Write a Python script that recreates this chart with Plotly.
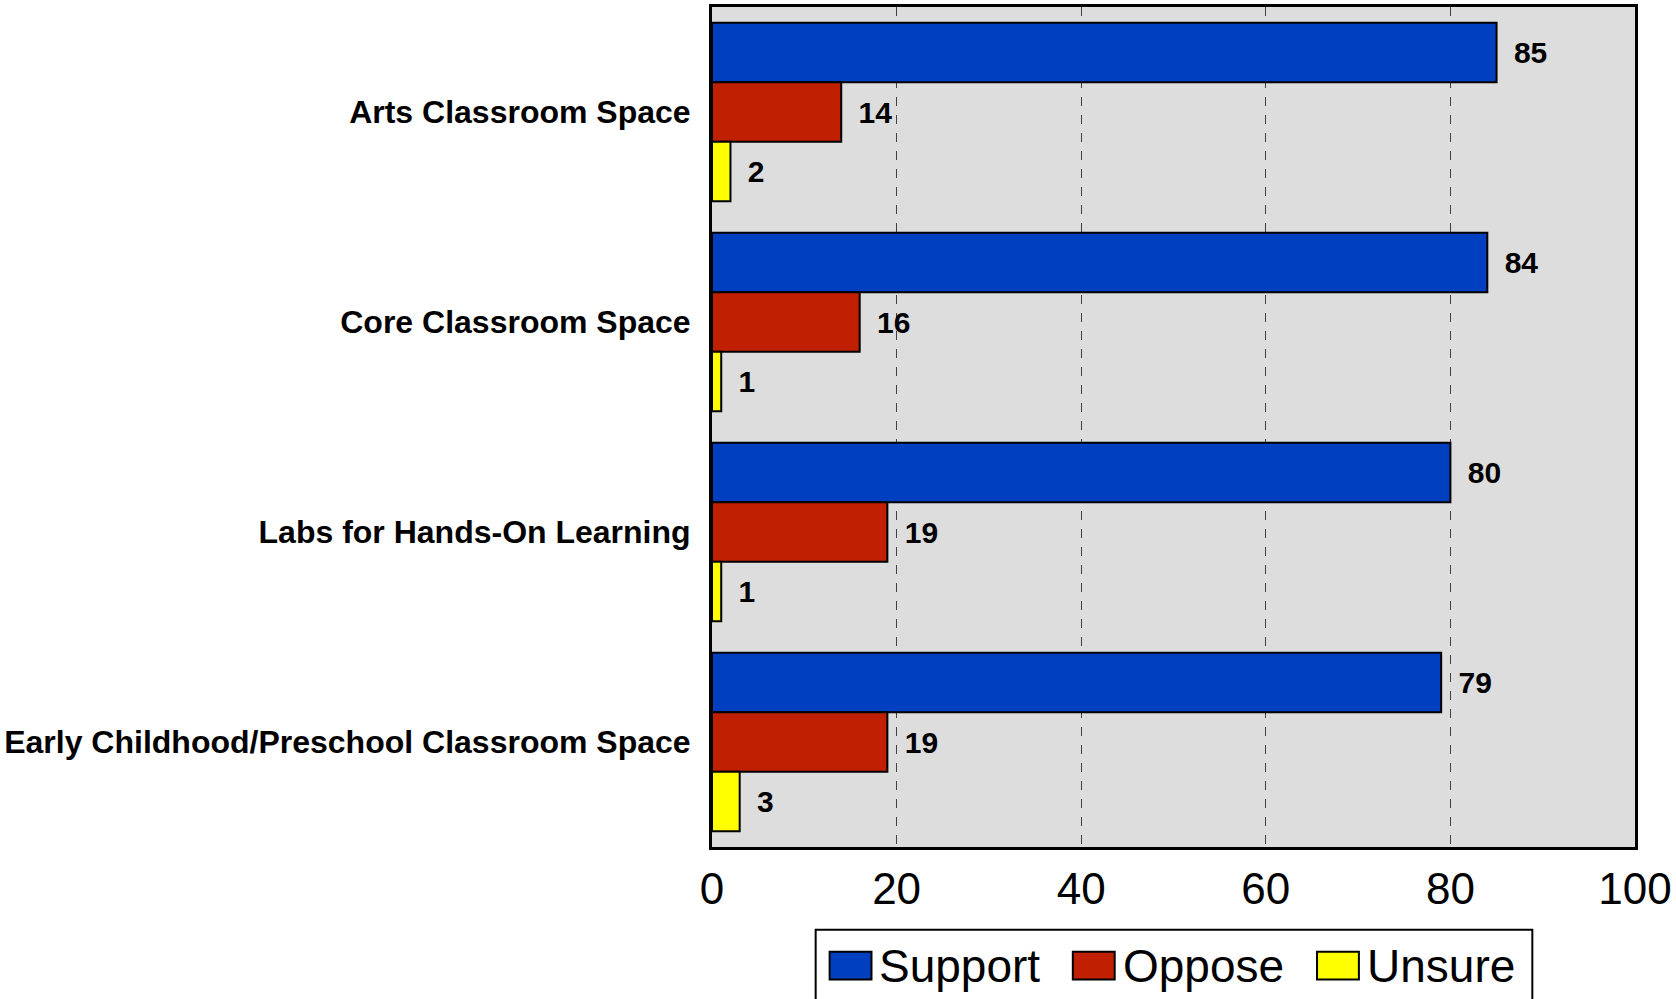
import plotly.graph_objects as go

categories = ["Arts Classroom Space", "Core Classroom Space",
              "Labs for Hands-On Learning", "Early Childhood/Preschool Classroom Space"]
support = [85, 84, 80, 79]
oppose = [14, 16, 19, 19]
unsure = [2, 1, 1, 3]
series_names = ["Support", "Oppose", "Unsure"]
colors = ["#0040C0", "#C02000", "#FFFF00"]

FONT = "Liberation Sans, Arial, sans-serif"

fig = go.Figure()
for name, vals, col in zip(series_names, [support, oppose, unsure], colors):
    fig.add_trace(go.Bar(
        y=categories, x=vals, name=name, orientation="h",
        marker=dict(color=col, line=dict(color="black", width=2)),
        text=["\u2009 " + str(v) for v in vals], textposition="outside",
        textfont=dict(family=FONT, size=30, color="black", weight="bold"),
        cliponaxis=False, showlegend=False,
    ))

W, H = 1676, 999
L, R, T, B = 712, 1638, 4, 847

fig.update_layout(
    width=W, height=H,
    margin=dict(l=L, r=W - R, t=T, b=H - B, pad=0),
    barmode="group", bargap=0.15, bargroupgap=0,
    plot_bgcolor="#DDDDDD", paper_bgcolor="white",
    font=dict(family=FONT, color="black"),
    showlegend=False,
)
fig.update_xaxes(
    range=[0, 100], tickvals=[0, 20, 40, 60, 80, 100],
    tickfont=dict(size=44), ticks="", ticklabelstandoff=1,
    showgrid=True, gridcolor="#404040", gridwidth=1, griddash="dash",
    zeroline=False, showline=True, linecolor="black", linewidth=3, mirror=True,
)
fig.update_yaxes(
    autorange="reversed", ticks="", ticklabelstandoff=12,
    tickfont=dict(size=32, weight="bold"),
    showline=True, linecolor="black", linewidth=3, mirror=True,
)

# manual legend (big swatches like the original)
def px_x(v):
    return (v - L) / (R - L)

def px_y(v):
    return (B - v) / (B - T)

fig.add_shape(type="rect", xref="paper", yref="paper",
              x0=px_x(816), x1=px_x(1535), y0=px_y(1010), y1=px_y(930),
              line=dict(color="black", width=2), fillcolor="white", layer="above")
sw_x = [830, 1074, 1319]
for name, col, sx in zip(series_names, colors, sw_x):
    fig.add_shape(type="rect", xref="paper", yref="paper",
                  x0=px_x(sx), x1=px_x(sx + 42), y0=px_y(980), y1=px_y(952),
                  line=dict(color="black", width=2), fillcolor=col, layer="above")
    fig.add_annotation(xref="paper", yref="paper", x=px_x(sx + 48), y=px_y(966),
                       text=name, showarrow=False, xanchor="left", yanchor="middle",
                       font=dict(family=FONT, size=46, color="black"))

fig.write_html("out.html", config={"displayModeBar": False},
               post_script="document.body.style.margin='0';")
